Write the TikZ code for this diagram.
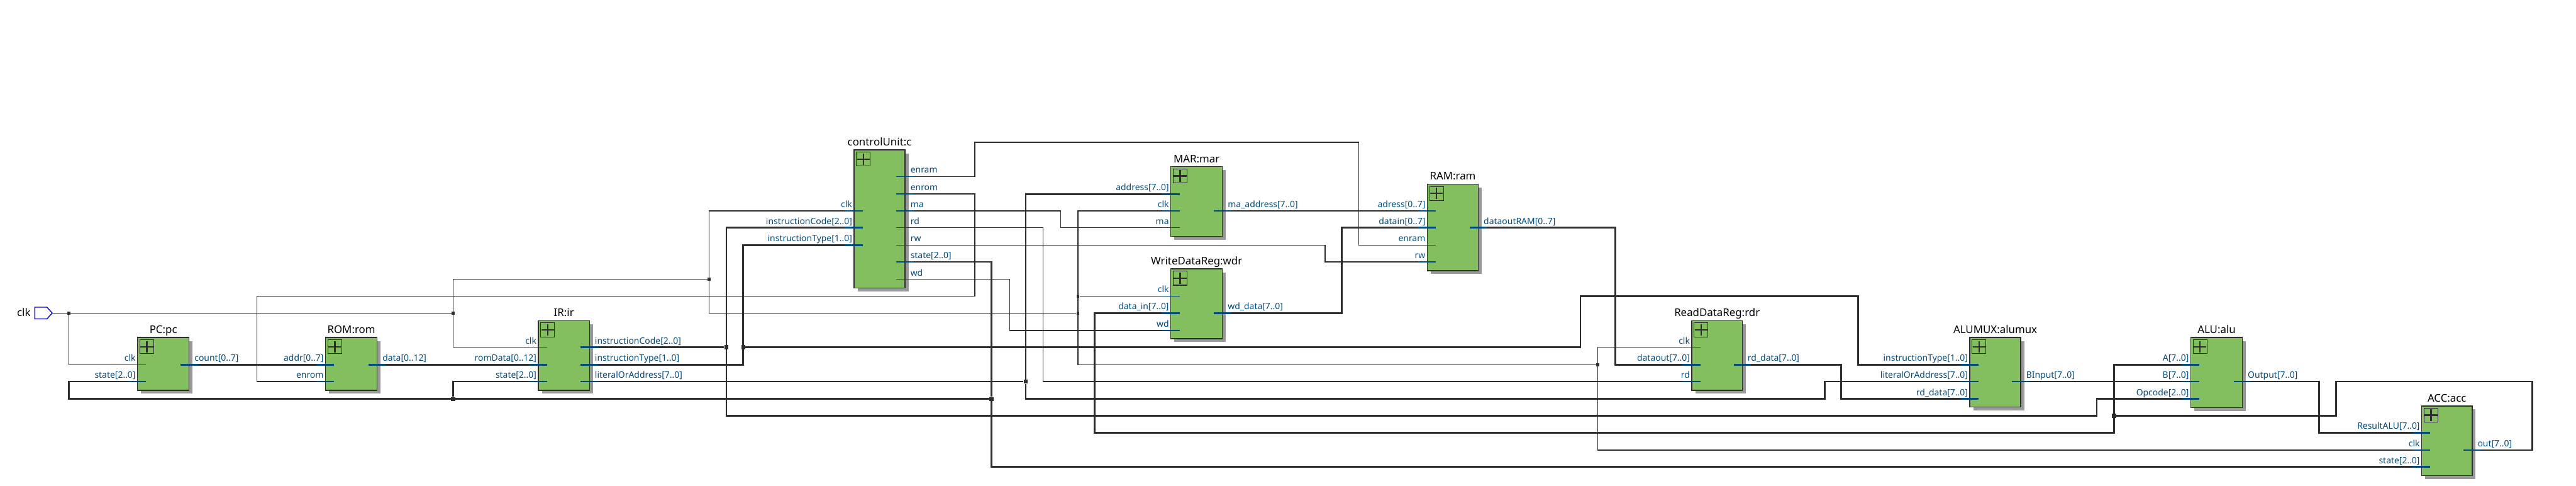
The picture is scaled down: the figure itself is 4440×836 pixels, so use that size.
\documentclass[tikz,border=0pt]{standalone}
\usepackage{xcolor}
\usepackage{fontspec}
\setmainfont{Noto Sans}
\definecolor{cblock}{HTML}{83BF5F}
\definecolor{cshade}{HTML}{999999}
\definecolor{cpin}{HTML}{004A7C}
\definecolor{cwire}{HTML}{2D2D2D}
\definecolor{cinput}{HTML}{0000D0}
\usepackage{tikz}
\usetikzlibrary{calc}
\def\px{0.02cm}
\tikzset{
  thinwire/.style={cwire, line width=1.5*\px},
  buswire/.style={cwire, line width=3*\px},
  thinpin/.style={cpin, line width=1.5*\px},
  buspin/.style={cpin, line width=3*\px},
  blockshape/.style={draw=cwire, fill=cblock, line width=1.5*\px, inner sep=0, outer sep=0},
  iconshape/.style={draw=cwire, line width=1.2*\px, inner sep=0, outer sep=0, minimum size=24*\px},
  iconplus/.style={cwire, line width=2.6*\px},
  titletext/.style={black, font=\fontsize{10.4}{12}\selectfont, inner sep=0},
  pintext/.style={cpin, font=\fontsize{8.6}{10}\selectfont, inner sep=0},
  thintap/.style={fill=cwire, inner sep=0, minimum size=5*\px},
  bustap/.style={fill=cwire, inner sep=0, minimum size=7*\px},
}
% block: name, title, left, top, width, height
\newcommand{\blockbox}[6]{
  \fill[cshade] ({#3+6},{#4+6}) rectangle ++(#5,#6);
  \node[blockshape, anchor=north west, minimum width=#5*\px, minimum height=#6*\px] (#1) at (#3,#4) {};
  \node[iconshape, anchor=north west] (#1-icon) at ($(#1.north west)+(4,4)$) {};
  \draw[iconplus] ($(#1-icon.north)+(0,2)$) -- ($(#1-icon.south)+(0,-2)$);
  \draw[iconplus] ($(#1-icon.west)+(1,0)$) -- ($(#1-icon.east)+(-1,0)$);
  \node[titletext, anchor=base] (#1-title) at ($(#1.north)+(0,-7)$) {#2};
}
% pins: name, block, y, text, style
\newcommand{\lpin}[5]{
  \coordinate (#1) at ($(#2.west |- 0,#3)+(-16,0)$);
  \draw[#5] (#1) -- +(31,0);
  \node[pintext, anchor=base east] (#1-text) at ($(#2.west |- 0,#3)+(-3,-6)$) {#4};
}
\newcommand{\rpin}[5]{
  \coordinate (#1) at ($(#2.east |- 0,#3)+(15,0)$);
  \draw[#5] (#1) -- +(-30,0);
  \node[pintext, anchor=base west] (#1-text) at ($(#2.east |- 0,#3)+(9,-6)$) {#4};
}
\begin{document}
\begin{tikzpicture}[x=0.02cm, y=-0.02cm]
  \useasboundingbox (0,0) rectangle (4440,836);
  % Blocks
  \blockbox{pc}{PC:pc}{237}{581}{89}{91}
  \blockbox{rom}{ROM:rom}{561}{581}{89}{91}
  \blockbox{ir}{IR:ir}{928}{552}{88}{120}
  \blockbox{cu}{controlUnit:c}{1472}{258}{88}{238}
  \blockbox{mar}{MAR:mar}{2018}{287}{89}{120}
  \blockbox{wdr}{WriteDataReg:wdr}{2018}{463}{89}{120}
  \blockbox{ram}{RAM:ram}{2460}{317}{88}{149}
  \blockbox{rdr}{ReadDataReg:rdr}{2916}{552}{87}{120}
  \blockbox{alumux}{ALUMUX:alumux}{3395}{581}{88}{120}
  \blockbox{alu}{ALU:alu}{3776}{581}{89}{121}
  \blockbox{acc}{ACC:acc}{4174}{699}{87}{120}
  % Pins
  \lpin{pc-clk}{pc}{628}{clk}{thinpin}
  \lpin{pc-state}{pc}{657}{state[2..0]}{buspin}
  \rpin{pc-count}{pc}{628}{count[0..7]}{buspin}
  \lpin{rom-addr}{rom}{628}{addr[0..7]}{buspin}
  \lpin{rom-enrom}{rom}{657}{enrom}{thinpin}
  \rpin{rom-data}{rom}{628}{data[0..12]}{buspin}
  \lpin{ir-clk}{ir}{598}{clk}{thinpin}
  \lpin{ir-rom}{ir}{628}{romData[0..12]}{buspin}
  \lpin{ir-state}{ir}{657}{state[2..0]}{buspin}
  \rpin{ir-code}{ir}{598}{instructionCode[2..0]}{buspin}
  \rpin{ir-type}{ir}{628}{instructionType[1..0]}{buspin}
  \rpin{ir-lit}{ir}{657}{literalOrAddress[7..0]}{buspin}
  \lpin{cu-clk}{cu}{363}{clk}{thinpin}
  \lpin{cu-code}{cu}{392}{instructionCode[2..0]}{buspin}
  \lpin{cu-type}{cu}{422}{instructionType[1..0]}{buspin}
  \rpin{cu-enram}{cu}{304}{enram}{thinpin}
  \rpin{cu-enrom}{cu}{334}{enrom}{thinpin}
  \rpin{cu-ma}{cu}{363}{ma}{thinpin}
  \rpin{cu-rd}{cu}{392}{rd}{thinpin}
  \rpin{cu-rw}{cu}{422}{rw}{thinpin}
  \rpin{cu-state}{cu}{451}{state[2..0]}{buspin}
  \rpin{cu-wd}{cu}{481}{wd}{thinpin}
  \lpin{mar-addr}{mar}{334}{address[7..0]}{buspin}
  \lpin{mar-clk}{mar}{363}{clk}{thinpin}
  \lpin{mar-ma}{mar}{392}{ma}{thinpin}
  \rpin{mar-out}{mar}{363}{ma\_address[7..0]}{buspin}
  \lpin{wdr-clk}{wdr}{510}{clk}{thinpin}
  \lpin{wdr-in}{wdr}{539}{data\_in[7..0]}{buspin}
  \lpin{wdr-wd}{wdr}{569}{wd}{thinpin}
  \rpin{wdr-out}{wdr}{539}{wd\_data[7..0]}{buspin}
  \lpin{ram-addr}{ram}{363}{adress[0..7]}{buspin}
  \lpin{ram-in}{ram}{392}{datain[0..7]}{buspin}
  \lpin{ram-enram}{ram}{422}{enram}{thinpin}
  \lpin{ram-rw}{ram}{451}{rw}{thinpin}
  \rpin{ram-out}{ram}{392}{dataoutRAM[0..7]}{buspin}
  \lpin{rdr-clk}{rdr}{598}{clk}{thinpin}
  \lpin{rdr-in}{rdr}{628}{dataout[7..0]}{buspin}
  \lpin{rdr-rd}{rdr}{657}{rd}{thinpin}
  \rpin{rdr-out}{rdr}{628}{rd\_data[7..0]}{buspin}
  \lpin{alumux-type}{alumux}{628}{instructionType[1..0]}{buspin}
  \lpin{alumux-lit}{alumux}{657}{literalOrAddress[7..0]}{buspin}
  \lpin{alumux-rd}{alumux}{687}{rd\_data[7..0]}{buspin}
  \rpin{alumux-out}{alumux}{657}{BInput[7..0]}{buspin}
  \lpin{alu-a}{alu}{628}{A[7..0]}{buspin}
  \lpin{alu-b}{alu}{657}{B[7..0]}{buspin}
  \lpin{alu-op}{alu}{687}{Opcode[2..0]}{buspin}
  \rpin{alu-out}{alu}{657}{Output[7..0]}{buspin}
  \lpin{acc-res}{acc}{745}{ResultALU[7..0]}{buspin}
  \lpin{acc-clk}{acc}{775}{clk}{thinpin}
  \lpin{acc-state}{acc}{804}{state[2..0]}{buspin}
  \rpin{acc-out}{acc}{775}{out[7..0]}{buspin}
  % Clock input
  \node[titletext, anchor=base east] (clktext) at (53,545) {clk};
  \coordinate (clkin) at (90,539);
  \draw[cinput, line width=1.5*\px] (clkin) -- (81,529) -- (60,529) -- (60,549) -- (81,549) -- cycle;
  % Junctions
  \node[thintap] (clkA) at (119,539) {};
  \node[thintap] (clkB) at (781,539) {};
  \node[thintap] (clkC) at (1222,481) {};
  \node[thintap] (clkD) at (1858,510) {};
  \node[thintap] (clkE) at (1858,539) {};
  \node[thintap] (clkF) at (2754,628) {};
  \node[bustap] (stA) at (781,687) {};
  \node[bustap] (stB) at (1709,687) {};
  \node[bustap] (codeA) at (1252,598) {};
  \node[bustap] (typeA) at (1281,598) {};
  \node[bustap] (litA) at (1768,657) {};
  \node[bustap] (accA) at (3644,716) {};
  % Clock net
  \draw[thinwire] (clkin) -- (clkB);
  \draw[thinwire] (clkA) |- (pc-clk);
  \draw[thinwire] (clkB) |- (clkC);
  \draw[thinwire] (clkB) |- (ir-clk);
  \draw[thinwire] (clkC) |- (cu-clk);
  \draw[thinwire] (clkC) |- (clkE);
  \draw[thinwire] (clkE) |- (mar-clk);
  \draw[thinwire] (clkD) -- (wdr-clk);
  \draw[thinwire] (clkE) |- (clkF);
  \draw[thinwire] (clkF) |- (rdr-clk);
  \draw[thinwire] (clkF) |- (acc-clk);
  % Control lines
  \draw[thinwire] (cu-enrom) -| (1680,510) -| (443,657) -- (rom-enrom);
  \draw[thinwire] (cu-enram) -| (1680,245) -| (2342,422) -- (ram-enram);
  \draw[thinwire] (cu-ma) -| (1828,392) -- (mar-ma);
  \draw[thinwire] (cu-rd) -| (1798,657) -- (rdr-rd);
  \draw[thinwire] (cu-rw) -| (2284,451) -- (ram-rw);
  \draw[thinwire] (cu-wd) -| (1740,569) -- (wdr-wd);
  % State bus
  \draw[buswire] (pc-state) -| (119,687) -- (stB);
  \draw[buswire] (stA) |- (ir-state);
  \draw[buswire] (cu-state) -| (stB);
  \draw[buswire] (stB) |- (acc-state);
  % Data buses
  \draw[buswire] (pc-count) -- (rom-addr);
  \draw[buswire] (rom-data) -- (ir-rom);
  \draw[buswire] (ir-code) -- (codeA);
  \draw[buswire] (codeA) |- (cu-code);
  \draw[buswire] (codeA) |- (3614,716) |- (alu-op);
  \draw[buswire] (ir-type) -| (typeA);
  \draw[buswire] (typeA) |- (cu-type);
  \draw[buswire] (typeA) -| (2724,510) -| (3203,628) -- (alumux-type);
  \draw[buswire] (ir-lit) -- (litA);
  \draw[buswire] (litA) |- (mar-addr);
  \draw[buswire] (litA) |- (3145,687) |- (alumux-lit);
  \draw[buswire] (mar-out) -- (ram-addr);
  \draw[buswire] (wdr-out) -| (2313,392) -- (ram-in);
  \draw[buswire] (wdr-in) -| (1887,745) -| (3644,628) -- (alu-a);
  \draw[buswire] (accA) -| (4026,657) -| (4365,775) -- (acc-out);
  \draw[buswire] (ram-out) -| (2784,628) -- (rdr-in);
  \draw[buswire] (rdr-out) -| (3173,687) -- (alumux-rd);
  \draw[buswire] (alumux-out) -- (alu-b);
  \draw[buswire] (alu-out) -| (3997,745) -- (acc-res);
\end{tikzpicture}
\end{document}
